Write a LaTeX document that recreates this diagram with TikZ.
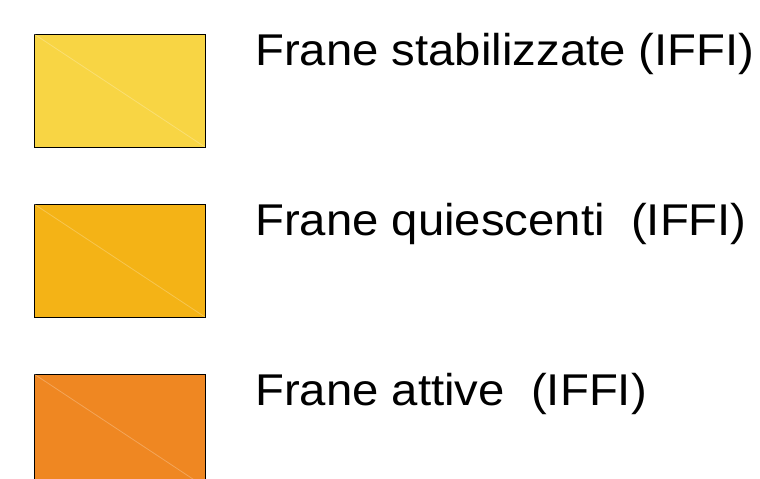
\documentclass[tikz,border=0pt]{standalone}
\usepackage{fontspec}
\setmainfont{Liberation Sans}[FakeStretch=1.063]
\definecolor{cstab}{RGB}{248,213,68}
\definecolor{cquie}{RGB}{244,179,22}
\definecolor{catt}{RGB}{239,135,34}
\tikzset{
  swatch/.style={draw=black, line width=0.9pt},
  diag/.style={draw=white, draw opacity=0.25, line width=0.8pt},
  lbl/.style={anchor=base west, inner sep=0pt, font=\fontsize{44.5pt}{50pt}\selectfont}
}
\begin{document}
\begin{tikzpicture}[x=1pt,y=1pt]
\useasboundingbox (0,0) rectangle (760,-479);
\clip (0,0) rectangle (760,-479);
\fill[white] (0,0) rectangle (760,-479);
% swatches
\filldraw[swatch, fill=cstab] (34,-34) rectangle (205,-147);
\draw[diag] (34,-34) -- (205,-147);
\filldraw[swatch, fill=cquie] (34,-204) rectangle (205,-317);
\draw[diag] (34,-204) -- (205,-317);
\filldraw[swatch, fill=catt] (34,-374) rectangle (205,-487);
\draw[diag] (34,-374) -- (205,-487);
% labels
\node[lbl] (l1) at (255,-65) {Frane stabilizzate (IFFI)};
\node[lbl] (l2) at (255,-235) {Frane quiescenti\ \ (IFFI)};
\node[lbl] (l3) at (255,-405) {Frane attive\ \ (IFFI)};
\end{tikzpicture}
\end{document}
